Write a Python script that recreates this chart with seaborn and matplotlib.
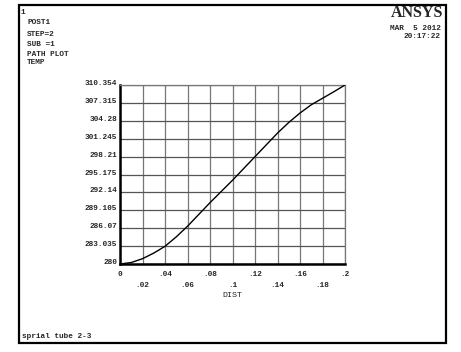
import matplotlib
matplotlib.use("Agg")
import matplotlib.pyplot as plt
import matplotlib.patches as mpatches
import numpy as np
import pandas as pd
import seaborn as sns

# path plot values
dist = [0.0, 0.01, 0.02, 0.03, 0.04, 0.05, 0.06, 0.07, 0.08, 0.09, 0.10,
        0.11, 0.12, 0.13, 0.14, 0.15, 0.16, 0.17, 0.18, 0.19, 0.20]
temp = [280.0, 280.25, 280.9, 281.85, 283.0, 284.6, 286.4, 288.4, 290.4,
        292.3, 294.2, 296.2, 298.2, 300.2, 302.2, 304.0, 305.6, 307.0,
        308.1, 309.2, 310.354]

y_ticks = [280, 283.035, 286.07, 289.105, 292.14, 295.175, 298.21,
           301.245, 304.28, 307.315, 310.354]
y_labels = ["280", "283.035", "286.07", "289.105", "292.14", "295.175",
            "298.21", "301.245", "304.28", "307.315", "310.354"]
x_major = [0, 0.04, 0.08, 0.12, 0.16, 0.2]
x_major_labels = ["0", ".04", ".08", ".12", ".16", ".2"]
x_minor = [0.02, 0.06, 0.10, 0.14, 0.18]
x_minor_labels = [".02", ".06", ".1", ".14", ".18"]

sns.set_style("white")
plt.rcParams["font.family"] = ["Liberation Mono", "DejaVu Sans Mono"]
plt.rcParams["font.weight"] = "bold"

W, H = 461, 352
fig = plt.figure(figsize=(W / 100, H / 100), dpi=100)
ax = fig.add_axes([120 / W, 1 - 264 / H, 225 / W, 179 / H])

df = pd.DataFrame({"DIST": dist, "TEMP": temp})
sns.lineplot(data=df, x="DIST", y="TEMP", ax=ax, color="black",
             linewidth=1.0, zorder=3)

ax.set_xlim(0, 0.2)
ax.set_ylim(280, 310.354)

ax.set_xticks(x_major)
ax.set_xticklabels(x_major_labels)
ax.set_xticks(x_minor, minor=True)
ax.set_xticklabels(x_minor_labels, minor=True)
ax.set_yticks(y_ticks)
ax.set_yticklabels(y_labels, va="baseline")

ax.tick_params(axis="x", which="major", length=0, pad=5, labelsize=5.6)
ax.tick_params(axis="x", which="minor", length=0, pad=13, labelsize=5.6)
ax.tick_params(axis="y", length=0, pad=2, labelsize=5.6)

ax.grid(True, which="both", axis="x", color="#777777", linewidth=0.9)
ax.grid(True, which="major", axis="y", color="#555555", linewidth=0.9)

for side in ["left", "bottom"]:
    ax.spines[side].set_color("black")
    ax.spines[side].set_linewidth(1.8)
for side in ["top", "right"]:
    ax.spines[side].set_color("#777777")
    ax.spines[side].set_linewidth(0.9)

ax.set_xlabel("DIST", fontsize=6, labelpad=2)
ax.set_ylabel("")

# outer frame
frame = mpatches.Rectangle((19 / W, 1 - 343 / H), 427 / W, 338 / H,
                           transform=fig.transFigure, fill=False,
                           edgecolor="black", linewidth=1.6)
fig.patches.append(frame)

def txt(x, y, s, **kw):
    fig.text(x / W, 1 - y / H, s, va="center", fontsize=5.6, **kw)

txt(21, 12, "1")
txt(27, 23, "POST1")
txt(27, 35, "STEP=2")
txt(27, 45, "SUB =1")
txt(27, 54, "PATH PLOT")
txt(27, 63, "TEMP")
txt(441, 29, "MAR  5 2012", ha="right")
txt(441, 37, "20:17:22", ha="right")
txt(22, 336, "sprial tube 2-3")

fig.text(443 / W, 1 - 13 / H, "ANSYS", ha="right", va="center",
         fontsize=11.5, fontweight="bold", family="Liberation Serif")

fig.savefig("out.png", dpi=100)
